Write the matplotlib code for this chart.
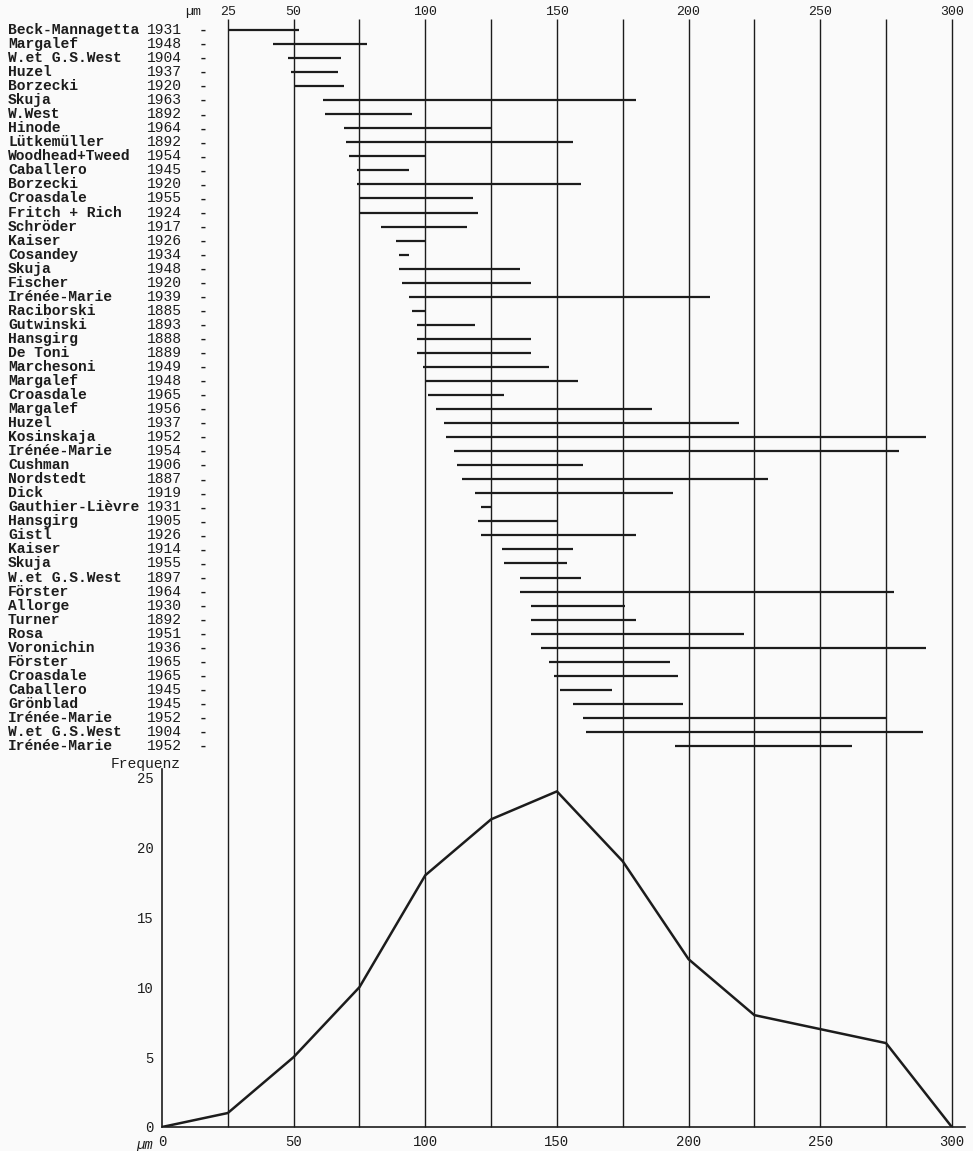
import numpy as np
import matplotlib.pyplot as plt
from matplotlib.transforms import blended_transform_factory

# literature records: author, year, size range in um
authors = ['Beck-Mannagetta', 'Margalef', 'W.et G.S.West', 'Huzel', 'Borzecki',
           'Skuja', 'W.West', 'Hinode', 'Lütkemüller', 'Woodhead+Tweed',
           'Caballero', 'Borzecki', 'Croasdale', 'Fritch + Rich', 'Schröder',
           'Kaiser', 'Cosandey', 'Skuja', 'Fischer', 'Irénée-Marie',
           'Raciborski', 'Gutwinski', 'Hansgirg', 'De Toni', 'Marchesoni',
           'Margalef', 'Croasdale', 'Margalef', 'Huzel', 'Kosinskaja',
           'Irénée-Marie', 'Cushman', 'Nordstedt', 'Dick', 'Gauthier-Lièvre',
           'Hansgirg', 'Gistl', 'Kaiser', 'Skuja', 'W.et G.S.West',
           'Förster', 'Allorge', 'Turner', 'Rosa', 'Voronichin',
           'Förster', 'Croasdale', 'Caballero', 'Grönblad', 'Irénée-Marie',
           'W.et G.S.West', 'Irénée-Marie']
years = [1931, 1948, 1904, 1937, 1920, 1963, 1892, 1964, 1892, 1954,
         1945, 1920, 1955, 1924, 1917, 1926, 1934, 1948, 1920, 1939,
         1885, 1893, 1888, 1889, 1949, 1948, 1965, 1956, 1937, 1952,
         1954, 1906, 1887, 1919, 1931, 1905, 1926, 1914, 1955, 1897,
         1964, 1930, 1892, 1951, 1936, 1965, 1965, 1945, 1945, 1952,
         1904, 1952]
size_min = [25, 42, 48, 49, 50, 61, 62, 69, 70, 71,
            74, 74, 75, 75, 83, 89, 90, 90, 91, 94,
            95, 97, 97, 97, 99, 100, 101, 104, 107, 108,
            111, 112, 114, 119, 121, 120, 121, 129, 130, 136,
            136, 140, 140, 140, 144, 147, 149, 151, 156, 160,
            161, 195]
size_max = [52, 78, 68, 67, 69, 180, 95, 125, 156, 100,
            94, 159, 118, 120, 116, 100, 94, 136, 140, 208,
            100, 119, 140, 140, 147, 158, 130, 186, 219, 290,
            280, 160, 230, 194, 125, 150, 180, 156, 154, 159,
            278, 176, 180, 221, 290, 193, 196, 171, 198, 275,
            289, 262]

# frequency polygon
classes = [0, 25, 50, 75, 100, 125, 150, 175, 200, 225, 250, 275, 300]
freq = [0, 1, 5, 10, 18, 22, 24, 19, 12, 8, 7, 6, 0]

grid_x = [25, 50, 75, 100, 125, 150, 175, 200, 225, 250, 275, 300]
top_labels = [25, 50, 100, 150, 200, 250, 300]
x_ticks = [0, 50, 100, 150, 200, 250, 300]
y_ticks = [0, 5, 10, 15, 20, 25]

ink = '#1c1c1c'
bg = '#fafafa'
mono = 'Liberation Mono'
W, H = 973, 1151

fig = plt.figure(figsize=(W / 100, H / 100), dpi=100, facecolor=bg)

# upper part: ranges
ax = fig.add_axes([162 / W, 1 - 769 / H, (965 - 162) / W, (769 - 15) / H])
ax.set_facecolor('none')
ax.set_xlim(0, 305)
ax.set_ylim(52.64, -1.07)
ax.axis('off')

rows = np.arange(len(authors))
ax.hlines(rows, size_min, size_max, color=ink, lw=1.6)

trans = blended_transform_factory(fig.transFigure, ax.transData)
for i in rows:
    ax.text(8 / W, i, authors[i], transform=trans, ha='left', va='center',
            fontsize=10.5, family=mono, weight='bold', color=ink)
    ax.text(147 / W, i, str(years[i]), transform=trans, ha='left', va='center',
            fontsize=10.5, family=mono, color=ink)
    ax.text(203 / W, i, '-', transform=trans, ha='center', va='center',
            fontsize=10.5, family=mono, weight='bold', color=ink)

for v in top_labels:
    ax.text(v, -1.25, str(v), ha='center', va='center', fontsize=9.5,
            family=mono, color=ink)
ax.text(11.8, -1.25, 'µm', ha='center', va='center', fontsize=9.5,
        family=mono, color=ink)

# lower part: frequency
bx = fig.add_axes([162 / W, 1 - 1127 / H, (965 - 162) / W, (1127 - 769) / H])
bx.set_facecolor('none')
bx.set_xlim(0, 305)
bx.set_ylim(0, 25.6)
for s in ['top', 'right']:
    bx.spines[s].set_visible(False)
for s in ['left', 'bottom']:
    bx.spines[s].set_color(ink)
    bx.spines[s].set_linewidth(1.2)
# grid lines run through both parts in one piece
bx.vlines(grid_x, 0, 79.2, color=ink, lw=1.0, clip_on=False)
bx.plot(classes, freq, color=ink, lw=1.8)

bx.set_xticks(x_ticks)
bx.set_xticklabels([str(v) for v in x_ticks], family=mono, fontsize=10, color=ink)
bx.set_yticks(y_ticks)
bx.set_yticklabels([str(v) for v in y_ticks], family=mono, fontsize=10, color=ink)
bx.tick_params(axis='both', length=0)
bx.tick_params(axis='x', pad=6)
bx.tick_params(axis='y', pad=6)

fig.text(181 / W, 1 - 764 / H, 'Frequenz', ha='right', va='center',
         fontsize=10.5, family=mono, color=ink)
fig.text(145 / W, 1 - 1145 / H, 'µm', ha='center', va='center',
         fontsize=10, family=mono, style='italic', color=ink)

fig.savefig('out.png', dpi=100, facecolor=bg)
